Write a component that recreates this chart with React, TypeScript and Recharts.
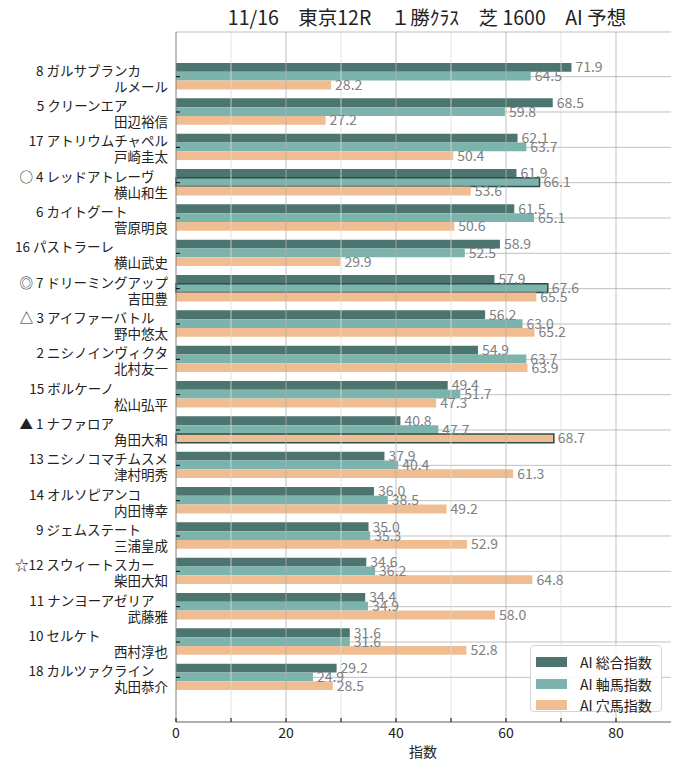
import React from 'react';
import {
  BarChart,
  Bar,
  XAxis,
  YAxis,
  CartesianGrid,
  ReferenceLine,
  LabelList,
  Legend,
  Cell,
} from 'recharts';

// horse line (mark + number + name) and jockey
const horses = [
  '8 ガルサブランカ',
  '5 クリーンエア',
  '17 アトリウムチャペル',
  '○ 4 レッドアトレーヴ',
  '6 カイトグート',
  '16 パストラーレ',
  '◎ 7 ドリーミングアップ',
  '△ 3 アイファーバトル',
  '2 ニシノインヴィクタ',
  '15 ボルケーノ',
  '▲ 1 ナファロア',
  '13 ニシノコマチムスメ',
  '14 オルソピアンコ',
  '9 ジェムステート',
  '☆12 スウィートスカー',
  '11 ナンヨーアゼリア',
  '10 セルケト',
  '18 カルツァクライン',
];
const nameLengths = [7, 6, 9, 8, 6, 5, 9, 8, 9, 5, 5, 9, 7, 7, 8, 8, 4, 8];
const jockeys = [
  'ルメール', '田辺裕信', '戸崎圭太', '横山和生', '菅原明良', '横山武史',
  '吉田豊', '野中悠太', '北村友一', '松山弘平', '角田大和', '津村明秀',
  '内田博幸', '三浦皇成', '柴田大知', '武藤雅', '西村淳也', '丸田恭介',
];
const totalIndex = [71.9, 68.5, 62.1, 61.9, 61.5, 58.9, 57.9, 56.2, 54.9, 49.4, 40.8, 37.9, 36.0, 35.0, 34.6, 34.4, 31.6, 29.2];
const axisIndex = [64.5, 59.8, 63.7, 66.1, 65.1, 52.5, 67.6, 63.0, 63.7, 51.7, 47.7, 40.4, 38.5, 35.3, 36.2, 34.9, 31.6, 24.9];
const anaIndex = [28.2, 27.2, 50.4, 53.6, 50.6, 29.9, 65.5, 65.2, 63.9, 47.3, 68.7, 61.3, 49.2, 52.9, 64.8, 58.0, 52.8, 28.5];
const axisOutlined = [3, 6];
const anaOutlined = [10];

const xTicks = [0, 10, 20, 30, 40, 50, 60, 70, 80];
const gridTicks = [10, 20, 30, 40, 50, 60, 70, 80];

const seriesNames = ['AI 総合指数', 'AI 軸馬指数', 'AI 穴馬指数'];
const COLORS = ['#4c7570', '#7db3ad', '#efbd91'];

const data = horses.map((h, i) => ({
  key: h,
  total: totalIndex[i],
  axis: axisIndex[i],
  ana: anaIndex[i],
}));

const FONT = '"Noto Sans CJK JP", "Noto Sans", sans-serif';

const YTick = (props: any) => {
  const { x, y, index } = props;
  const pad = '　'.repeat(Math.max(0, 9 - nameLengths[index]));
  return (
    <g>
      <line x1={x} x2={x + 4} y1={y} y2={y} stroke="#000" />
      <text x={x - 8} y={y} textAnchor="end" fontSize={13.5} fill="#222" fontFamily={FONT}>
        <tspan x={x - 8} dy={-1}>{horses[index] + pad}</tspan>
        <tspan x={x - 8} dy={16}>{jockeys[index]}</tspan>
      </text>
    </g>
  );
};

const RightTick = (props: any) => {
  const { x, y } = props;
  return <line x1={x} x2={x - 4} y1={y} y2={y} stroke="#000" />;
};

const XTick = (props: any) => {
  const { x, y, payload } = props;
  return (
    <g>
      <line x1={x} x2={x} y1={y} y2={y - 4} stroke="#000" />
      {payload.value % 20 === 0 && (
        <text x={x} y={y + 16} textAnchor="middle" fontSize={14} fill="#222" fontFamily={FONT}>
          {payload.value}
        </text>
      )}
    </g>
  );
};

const TopTick = (props: any) => {
  const { x, y } = props;
  return <line x1={x} x2={x} y1={y} y2={y + 4} stroke="#000" />;
};

const LegendBox = () => (
  <div
    style={{
      width: 132,
      height: 67,
      border: '1px solid #d4d4d4',
      borderRadius: 4,
      background: 'rgba(255,255,255,0.85)',
      fontFamily: FONT,
      fontSize: 14,
      color: '#222',
      boxSizing: 'border-box',
      paddingTop: 5,
    }}
  >
    {seriesNames.map((n, i) => (
      <div key={n} style={{ display: 'flex', alignItems: 'center', height: 21.7 }}>
        <span style={{ display: 'inline-block', width: 31, height: 10, background: COLORS[i], marginLeft: 5 }} />
        <span style={{ marginLeft: 13, lineHeight: '14px' }}>{n}</span>
      </div>
    ))}
  </div>
);

const labelFmt = (v: any) => Number(v).toFixed(1);

export default function App() {
  return (
    <div style={{ position: 'absolute', left: 0, top: 0, width: 680, height: 770, background: '#fff' }}>
      <div
        style={{
          position: 'absolute',
          left: 176,
          width: 502,
          top: 2,
          textAlign: 'center',
          fontSize: 19.5,
          fontFamily: FONT,
          color: '#222',
          whiteSpace: 'pre',
        }}
      >
        11/16　東京12R　１勝ｸﾗｽ　芝 1600　AI 予想
      </div>
      <BarChart
        width={680}
        height={770}
        data={data}
        layout="vertical"
        margin={{ top: 32, right: 9, bottom: 18, left: 0 }}
        barGap={0}
        barSize={8.8}
      >
        <XAxis
          xAxisId="bottom"
          type="number"
          domain={[0, 90]}
          ticks={xTicks}
          height={30}
          tickSize={0}
          tickMargin={0}
          tickLine={false}
          tick={<XTick />}
          axisLine={{ stroke: '#808080' }}
        />
        <XAxis
          xAxisId="top"
          orientation="top"
          type="number"
          domain={[0, 90]}
          ticks={gridTicks}
          height={0}
          tickSize={0}
          tickMargin={0}
          tickLine={false}
          tick={<TopTick />}
          axisLine={{ stroke: '#808080' }}
        />
        <YAxis
          yAxisId="left"
          type="category"
          dataKey="key"
          width={176}
          interval={0}
          padding={{ top: 27, bottom: 27 }}
          tickSize={0}
          tickMargin={0}
          tickLine={false}
          tick={<YTick />}
          axisLine={{ stroke: '#808080' }}
        />
        <YAxis
          yAxisId="right"
          orientation="right"
          type="category"
          dataKey="key"
          width={0}
          interval={0}
          padding={{ top: 27, bottom: 27 }}
          tickSize={0}
          tickMargin={0}
          tickLine={false}
          tick={<RightTick />}
          axisLine={{ stroke: '#808080' }}
        />
        <Bar xAxisId="bottom" yAxisId="left" dataKey="total" fill={COLORS[0]} isAnimationActive={false}>
          <LabelList dataKey="total" position="right" offset={4} fill="#808080" fontSize={14} fontFamily={FONT} formatter={labelFmt} />
        </Bar>
        <Bar xAxisId="bottom" yAxisId="left" dataKey="axis" fill={COLORS[1]} isAnimationActive={false}>
          {data.map((d, i) => (
            <Cell
              key={`axis-${i}`}
              fill={COLORS[1]}
              stroke={axisOutlined.includes(i) ? '#2d4f4b' : 'none'}
              strokeWidth={1.5}
            />
          ))}
          <LabelList dataKey="axis" position="right" offset={4} fill="#808080" fontSize={14} fontFamily={FONT} formatter={labelFmt} />
        </Bar>
        <Bar xAxisId="bottom" yAxisId="left" dataKey="ana" fill={COLORS[2]} isAnimationActive={false}>
          {data.map((d, i) => (
            <Cell
              key={`ana-${i}`}
              fill={COLORS[2]}
              stroke={anaOutlined.includes(i) ? '#2d4f4b' : 'none'}
              strokeWidth={1.5}
            />
          ))}
          <LabelList dataKey="ana" position="right" offset={4} fill="#808080" fontSize={14} fontFamily={FONT} formatter={labelFmt} />
        </Bar>
        <CartesianGrid xAxisId="bottom" yAxisId="left" vertical={false} stroke="#b0b0b0" strokeOpacity={0.8} />
        {gridTicks.map((t) => (
          <ReferenceLine
            key={t}
            xAxisId="bottom"
            yAxisId="left"
            x={t}
            stroke={t % 20 === 0 ? '#b0b0b0' : '#dcdcdc'}
            strokeOpacity={0.8}
          />
        ))}
        <Legend
          layout="vertical"
          align="center"
          verticalAlign="middle"
          content={() => <LegendBox />}
          wrapperStyle={{ left: 530, top: 645, width: 133, height: 68 }}
        />
      </BarChart>
      <div
        style={{
          position: 'absolute',
          left: 393,
          width: 60,
          top: 741,
          textAlign: 'center',
          fontSize: 14,
          fontFamily: FONT,
          color: '#222',
        }}
      >
        指数
      </div>
    </div>
  );
}
